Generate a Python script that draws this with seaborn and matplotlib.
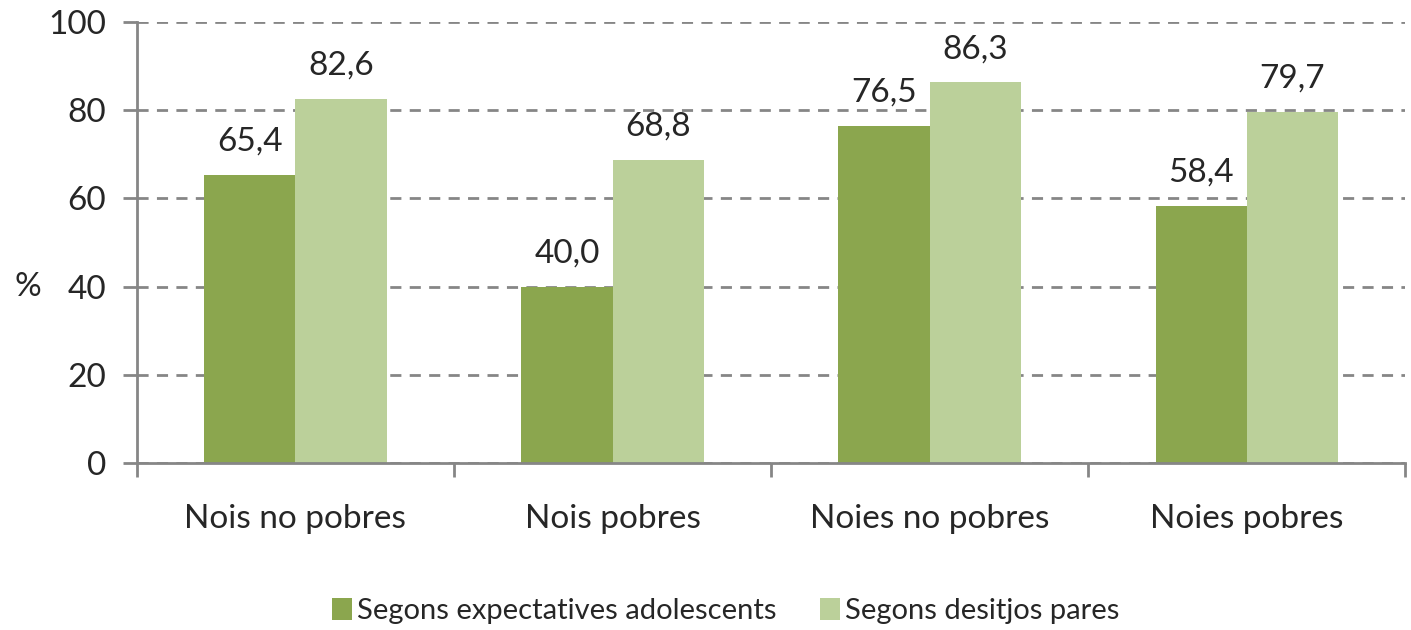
import pandas as pd
import numpy as np
import seaborn as sns
import matplotlib.pyplot as plt
from matplotlib.ticker import FixedLocator

# Dades del gràfic
categories = ['Nois no pobres', 'Nois pobres', 'Noies no pobres', 'Noies pobres']
series = ['Segons expectatives adolescents', 'Segons desitjos pares']
expectatives = [65.4, 40.0, 76.5, 58.4]
desitjos = [82.6, 68.8, 86.3, 79.7]
colors = ['#8BA64E', '#BBD09A']

df = pd.DataFrame({
    'categoria': categories * 2,
    'serie': [series[0]] * 4 + [series[1]] * 4,
    'valor': expectatives + desitjos,
})

sns.set_style('white')
plt.rcParams['font.family'] = ['Lato', 'DejaVu Sans']
FS = 24

fig = plt.figure(figsize=(14.11, 6.3), dpi=100)
ax = fig.add_axes([0.097, 0.265, 0.899, 0.70])

sns.barplot(data=df, x='categoria', y='valor', hue='serie', palette=colors,
            width=0.575, saturation=1, ax=ax, linewidth=0)

# etiquetes de valor
for cont in ax.containers:
    ax.bar_label(cont, labels=[f'{v:.1f}'.replace('.', ',') for v in cont.datavalues],
                 padding=13, fontsize=FS)

ax.set_ylim(0, 100)
ax.set_xlim(-0.5, 3.5)
ax.set_yticks(range(0, 101, 20))
ax.yaxis.grid(True, linestyle=(0, (4, 3)), color='#868686', linewidth=2)
ax.set_axisbelow(True)

for s in ['top', 'right']:
    ax.spines[s].set_visible(False)
for s in ['left', 'bottom']:
    ax.spines[s].set_color('#868686')
    ax.spines[s].set_linewidth(2)

ax.tick_params(axis='y', which='major', left=True, length=10, width=2, color='#868686',
               labelsize=FS, pad=12)
ax.tick_params(axis='x', which='major', bottom=False, labelsize=FS, pad=26)
ax.xaxis.set_minor_locator(FixedLocator(np.arange(-0.5, 3.6, 1)))
ax.tick_params(axis='x', which='minor', bottom=True, length=10, width=2, color='#868686')

ax.set_xlabel('')
ax.set_ylabel('%', rotation=0, fontsize=FS, va='center', ha='center')
ax.yaxis.set_label_coords(-0.086, 0.4)

ax.legend(loc='center', bbox_to_anchor=(0.464, -0.335), ncol=2, frameon=False,
          fontsize=21, handlelength=0.7, handleheight=0.8, handletextpad=0.15,
          columnspacing=1.5)

fig.savefig('out.png', dpi=100)
